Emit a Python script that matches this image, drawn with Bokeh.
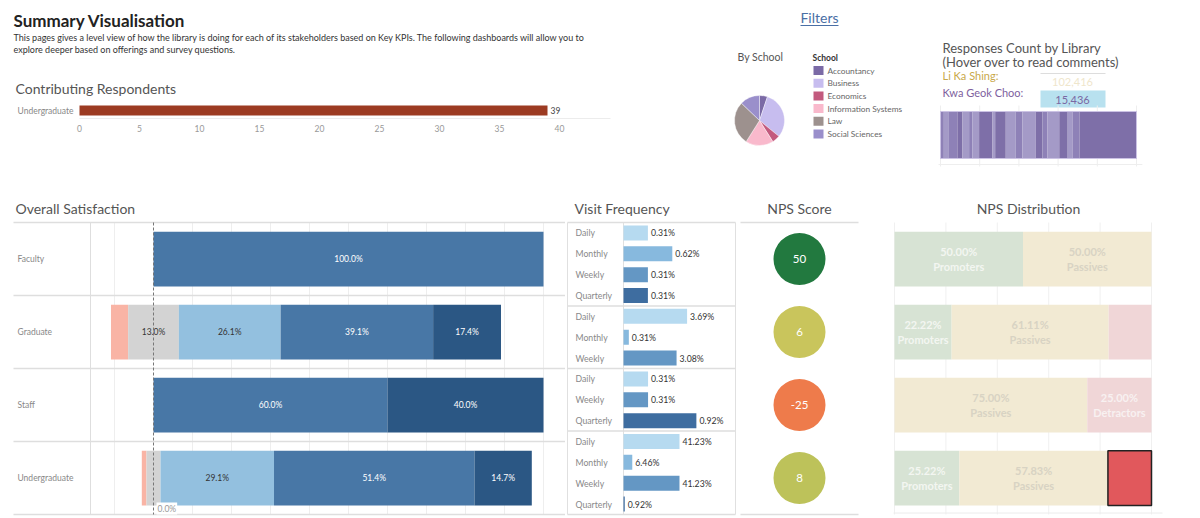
import numpy as np
from bokeh.plotting import figure
from bokeh.layouts import row, column
from bokeh.models import Range1d, Label
from bokeh.core.properties import value
from bokeh.embed import file_html
from bokeh.resources import INLINE

FONT = "Lato"

# ---------------- data ----------------
title_text = "Summary Visualisation"
desc_lines = [
    "This pages gives a level view of how the library is doing for each of its stakeholders based on Key KPIs. The following dashboards will allow you to",
    "explore deeper based on offerings and survey questions.",
]
resp_categories = ["Undergraduate"]
resp_counts = [39]
resp_ticks = [0, 5, 10, 15, 20, 25, 30, 35, 40]

schools = ["Accountancy", "Business", "Economics", "Information Systems", "Law", "Social Sciences"]
school_counts = [2, 12, 2, 7, 11, 5]
school_colors = ["#7b6aa6", "#c7bdef", "#c35a7e", "#f9b9cc", "#9d918e", "#9a8fcb"]

libraries = ["Li Ka Shing:", "Kwa Geok Choo:"]
library_counts = [102416, 15436]
library_colors = ["#c9a94a", "#7e5f9e"]
stripe_pct = [1.7, 2.6, 4.3, 2.6, 3.4, 1.7, 3.4, 6.8, 1.4, 5.4, 5.1, 3.4, 6.8, 3.4, 2.6, 6.0, 4.3, 2.6, 3.4, 29.1]
stripe_shade = ["m", "l", "m", "d", "l", "m", "l", "d", "l", "d", "l", "m", "l", "d", "m", "l", "d", "l", "m", "d"]
stripe_ticks = [0, 20, 40, 60, 80, 100]

stakeholders = ["Faculty", "Graduate", "Staff", "Undergraduate"]
sat_levels = ["Dissatisfied", "Neutral", "Satisfied", "Very Satisfied", "Extremely Satisfied"]
sat_colors = ["#f9b4a5", "#d3d3d3", "#93c0df", "#4877a6", "#2b5784"]
sat_faculty = [0.0, 0.0, 0.0, 100.0, 0.0]
sat_graduate = [4.4, 13.0, 26.1, 39.1, 17.4]
sat_staff = [0.0, 0.0, 0.0, 60.0, 40.0]
sat_undergrad = [1.2, 3.6, 29.1, 51.4, 14.7]
sat_ticks = [-10, 10, 20, 30, 40, 50, 60, 70, 80, 90, 100]

freq_names = ["Daily", "Monthly", "Weekly", "Quarterly"]
freq_colors = ["#b6daf0", "#87b9de", "#6497c4", "#3e6da0"]
vf_labels = [
    ["Daily", "Monthly", "Weekly", "Quarterly"],
    ["Daily", "Monthly", "Weekly"],
    ["Daily", "Weekly", "Quarterly"],
    ["Daily", "Monthly", "Weekly", "Quarterly"],
]
vf_pct = [
    [0.31, 0.62, 0.31, 0.31],
    [3.69, 0.31, 3.08],
    [0.31, 0.31, 0.92],
    [41.23, 6.46, 41.23, 0.92],
]

nps_scores = [50, 6, -25, 8]
nps_colors = ["#22793f", "#c9c55c", "#ee7b4b", "#bdc25a"]

nps_groups = ["Promoters", "Passives", "Detractors"]
nps_promoters = [50.00, 22.22, 0.00, 25.22]
nps_passives = [50.00, 61.11, 75.00, 57.83]
nps_detractors = [0.00, 16.67, 25.00, 16.95]
nps_fill = ["#d7e3d4", "#f2ead3", "#f0d6d7"]
nps_text = ["#f3f6f1", "#d8d3c3", "#f8f1f1"]
nps_ticks = [0, 20, 40, 60, 80, 100]
nps_highlight = (3, 2)   # Undergraduate / Detractors selected

# ---------------- helpers ----------------
H_TOP, H_BOT = 192, 324
TOP0 = 0      # reference y of top row
BOT0 = 192    # reference y of bottom row


def mkfig(w, h, xr, yr):
    p = figure(width=w, height=h, x_range=xr, y_range=yr, output_backend="svg",
               toolbar_location=None, x_axis_location=None, y_axis_location=None,
               outline_line_color=None, min_border=0)
    p.min_border_left = 0
    p.min_border_right = 0
    p.min_border_top = 0
    p.min_border_bottom = 0
    for g in p.xgrid:
        g.visible = False
    for g in p.ygrid:
        g.visible = False
    p.background_fill_color = "white"
    p.border_fill_color = "white"
    return p


def txt(p, x, y, s, size, color, align="left", style="normal", baseline="middle"):
    p.text(x=[x], y=[y], text=[s], text_font=value(FONT), text_font_size=size,
           text_color=color, text_align=align, text_baseline=baseline,
           text_font_style=style)


# ---------------- figure A: summary + contributing respondents ----------------
W_A = 720
xA0, kA = 79.0, 12.0
ax_ = lambda px: (px - xA0) / kA
pA = mkfig(W_A, H_TOP, Range1d(ax_(0), ax_(W_A)), Range1d(H_TOP, 0))
txt(pA, ax_(13), 20, title_text, "17px", "#222222", style="bold")
txt(pA, ax_(13), 37, desc_lines[0], "9px", "#333333")
txt(pA, ax_(13), 49, desc_lines[1], "9px", "#333333")
txt(pA, ax_(15), 88, "Contributing Respondents", "14px", "#555555")
RESP_Y = 110
pA.segment(x0=[0], x1=[ax_(610)], y0=[118], y1=[118], line_color="#ececec", line_width=1)
pA.hbar(y=[RESP_Y] * len(resp_counts), left=0, right=resp_counts, height=10,
        fill_color="#9c3b22", line_color=None)
for c, v in zip(resp_categories, resp_counts):
    txt(pA, ax_(73), RESP_Y, c, "8.5px", "#888888", align="right")
    txt(pA, v + 3 / kA, RESP_Y, str(v), "8.5px", "#444444")
pA.text(x=resp_ticks, y=[128] * len(resp_ticks), text=[str(t) for t in resp_ticks],
        text_font=value(FONT), text_font_size="8.5px", text_color="#999999",
        text_align="center", text_baseline="middle")

# ---------------- figure B: filters + pie ----------------
W_B = 215
xB0 = 720
bx = lambda px: px - xB0
by = lambda py: H_TOP - (py - TOP0)
pB = mkfig(W_B, H_TOP, Range1d(0, W_B), Range1d(0, H_TOP))
txt(pB, bx(819), by(17), "Filters", "14px", "#4a6fa5", align="center")
pB.segment(x0=[bx(800)], x1=[bx(838)], y0=[by(25)], y1=[by(25)], line_color="#4a6fa5", line_width=1)
txt(pB, bx(737), by(56), "By School", "10.5px", "#555555")
frac = np.array(school_counts, dtype=float) / sum(school_counts)
cum = np.concatenate([[0.0], np.cumsum(frac)])
start = np.pi / 2 - 2 * np.pi * cum[1:]
end = np.pi / 2 - 2 * np.pi * cum[:-1]
pB.wedge(x=bx(759), y=by(120), radius=25, start_angle=start, end_angle=end,
         fill_color=school_colors, line_color="white", line_width=0.4)
txt(pB, bx(812), by(57), "School", "8.5px", "#333333", style="bold")
leg_y = [by(70 + 12.7 * i) for i in range(len(schools))]
pB.rect(x=[bx(818)] * len(schools), y=leg_y, width=10, height=9, fill_color=school_colors, line_color=None)
for yy, s in zip(leg_y, schools):
    txt(pB, bx(827), yy, s, "8.3px", "#666666")

# ---------------- figure C: responses count by library ----------------
W_C = 263
xC_org = 935
xC0, kC = 940.0, 1.96
cx = lambda px: (px - xC0) / kC
pC = mkfig(W_C, H_TOP, Range1d(cx(xC_org), cx(xC_org + W_C)), Range1d(H_TOP, 0))
txt(pC, cx(942), 47, "Responses Count by Library", "13px", "#555555")
txt(pC, cx(942), 61, "(Hover over to read comments)", "13px", "#555555")
txt(pC, cx(942), 75, libraries[0], "11px", library_colors[0])
txt(pC, cx(942), 92, libraries[1], "11px", library_colors[1])
pC.segment(x0=[cx(1040)], x1=[cx(1105)], y0=[73], y1=[73], line_color="#dddddd", line_width=1)
pC.quad(left=[cx(1040)], right=[cx(1105)], top=[90], bottom=[107], fill_color="#b8e1ef", line_color=None)
txt(pC, cx(1072), 81, f"{library_counts[0]:,}", "11px", "#efe6cc", align="center")
txt(pC, cx(1072), 99, f"{library_counts[1]:,}", "11px", "#7a68a3", align="center")
pC.segment(x0=stripe_ticks, x1=stripe_ticks, y0=[105] * len(stripe_ticks), y1=[166] * len(stripe_ticks),
           line_color="#eeeeee", line_width=1)
pC.segment(x0=[-1], x1=[103], y0=[164], y1=[164], line_color="#eeeeee", line_width=1)
shade_map = {"d": "#7e6fa8", "m": "#8e81b7", "l": "#a49ac7"}
sp = np.array(stripe_pct)
s_right = np.cumsum(sp)
s_left = s_right - sp
pC.hbar(y=134.5, left=s_left, right=s_right, height=47,
        fill_color=[shade_map[s] for s in stripe_shade], line_color=None)
pC.quad(left=[0], right=[s_right[-1]], top=[111], bottom=[158], fill_color=None,
        line_color="#cbc2e4", line_width=1)

# ---------------- figure D: overall satisfaction ----------------
ROW_TOP, PITCH = 222.0 - BOT0, 73.0
W_D = 565
xD0, kD = 153.0, 3.9
dx = lambda px: (px - xD0) / kD
yr_rows = Range1d((H_BOT - ROW_TOP) / PITCH, -ROW_TOP / PITCH)
TITLE_Y = (208 - BOT0 - ROW_TOP) / PITCH
pD = mkfig(W_D, H_BOT, Range1d(dx(0), dx(W_D)), yr_rows)
txt(pD, dx(15), TITLE_Y, "Overall Satisfaction", "14px", "#555555")
n = len(stakeholders)
pD.segment(x0=sat_ticks, x1=sat_ticks, y0=[0] * len(sat_ticks), y1=[n] * len(sat_ticks),
           line_color="#eeeeee", line_width=1)
pD.segment(x0=[dx(13)] * (n + 1), x1=[dx(W_D)] * (n + 1), y0=list(range(n + 1)), y1=list(range(n + 1)),
           line_color="#dedede", line_width=1.5)
pD.segment(x0=[dx(90)], x1=[dx(90)], y0=[0], y1=[n], line_color="#dedede", line_width=1)
sat = np.array([sat_faculty, sat_graduate, sat_staff, sat_undergrad])
base = -(sat[:, 0] + sat[:, 1] / 2)
cums = np.concatenate([np.zeros((n, 1)), np.cumsum(sat, axis=1)[:, :-1]], axis=1)
lefts = base[:, None] + cums
rows_c = np.arange(n) + 0.5
for j, lev in enumerate(sat_levels):
    pD.hbar(y=rows_c, left=lefts[:, j], right=lefts[:, j] + sat[:, j], height=0.75,
            fill_color=sat_colors[j], line_color=None)
for i in range(n):
    txt(pD, dx(17), rows_c[i], stakeholders[i], "8.5px", "#888888")
    for j in range(1, len(sat_levels)):
        v = sat[i, j]
        if v >= 5:
            col = "#333333" if j <= 2 else "white"
            txt(pD, lefts[i, j] + v / 2, rows_c[i], f"{v:.1f}%", "8.5px", col, align="center")
pD.segment(x0=[0], x1=[0], y0=[0], y1=[n], line_color="#777777", line_width=1, line_dash="3 2")
pD.add_layout(Label(x=dx(156), y=n - 6 / PITCH, text="0.0%", text_font=FONT, text_font_size="8.5px",
                    text_color="#999999", text_baseline="middle", background_fill_color="white",
                    padding=1))

# ---------------- figure E: visit frequency ----------------
W_E = 173
xE_org = 565
xE0, kE = 623.0, 1.22
ex = lambda px: (px - xE0) / kE
n_items = sum(len(g) for g in vf_labels)
pitchE = (n * PITCH) / n_items
pE = mkfig(W_E, H_BOT, Range1d(ex(xE_org), ex(xE_org + W_E)),
           Range1d((H_BOT - ROW_TOP) / pitchE, -ROW_TOP / pitchE))
txt(pE, ex(574), (208 - BOT0 - ROW_TOP) / pitchE, "Visit Frequency", "14px", "#555555")
bounds = np.concatenate([[0], np.cumsum([len(g) for g in vf_labels])])
pE.segment(x0=[ex(567), ex(735), 0], x1=[ex(567), ex(735), 0], y0=[0, 0, 0], y1=[n_items] * 3,
           line_color="#e0e0e0", line_width=1)
pE.segment(x0=[ex(567)] * len(bounds), x1=[ex(735)] * len(bounds), y0=bounds, y1=bounds,
           line_color="#dedede", line_width=1.5)
for g, (labs, pcts) in enumerate(zip(vf_labels, vf_pct)):
    tot = sum(pcts)
    for k, (lab, pc) in enumerate(zip(labs, pcts)):
        yy = bounds[g] + k + 0.5
        share = pc / tot * 100
        pE.hbar(y=[yy], left=0, right=[share], height=0.72,
                fill_color=freq_colors[freq_names.index(lab)], line_color=None)
        txt(pE, ex(575), yy, lab, "8.7px", "#888888")
        txt(pE, share + 3 / kE, yy, f"{pc:.2f}%", "8.7px", "#333333")

# ---------------- figure F: NPS score ----------------
W_F = 132
xF_org = 738
pF = mkfig(W_F, H_BOT, Range1d(xF_org, xF_org + W_F), yr_rows)
txt(pF, 799, TITLE_Y, "NPS Score", "14px", "#555555", align="center")
pF.segment(x0=[740, 740], x1=[858, 858], y0=[0, n], y1=[0, n], line_color="#dedede", line_width=1.5)
pF.scatter(x=[799] * n, y=rows_c, size=52, fill_color=nps_colors, line_color=None)
for i, s in enumerate(nps_scores):
    txt(pF, 799, rows_c[i], str(s), "11.5px", "white", align="center")

# ---------------- figure G: NPS distribution ----------------
W_G = 328
xG_org = 870
xG0, kG = 894.0, 2.57
gx = lambda px: (px - xG0) / kG
pG = mkfig(W_G, H_BOT, Range1d(gx(xG_org), gx(xG_org + W_G)), yr_rows)
txt(pG, gx(1028), TITLE_Y, "NPS Distribution", "14px", "#555555", align="center")
pG.segment(x0=nps_ticks, x1=nps_ticks, y0=[0] * len(nps_ticks), y1=[n] * len(nps_ticks),
           line_color="#f0f0f0", line_width=1)
pG.segment(x0=[gx(893)], x1=[gx(1162)], y0=[n - 0.02], y1=[n - 0.02], line_color="#ececec", line_width=1)
nps = np.array([nps_promoters, nps_passives, nps_detractors]).T
nps_left = np.concatenate([np.zeros((n, 1)), np.cumsum(nps, axis=1)[:, :-1]], axis=1)
for j, grp in enumerate(nps_groups):
    pG.hbar(y=rows_c, left=nps_left[:, j], right=nps_left[:, j] + nps[:, j], height=0.75,
            fill_color=nps_fill[j], line_color=None)
hi, hj = nps_highlight
pG.hbar(y=[rows_c[hi]], left=[nps_left[hi, hj]], right=[nps_left[hi, hj] + nps[hi, hj]], height=0.75,
        fill_color="#e1585c", line_color="#222222", line_width=1.5)
for i in range(n):
    for j, grp in enumerate(nps_groups):
        v = nps[i, j]
        if v >= 20 and (i, j) != nps_highlight:
            txt(pG, nps_left[i, j] + v / 2, rows_c[i], f"{v:.2f}%\n{grp}", "11px", nps_text[j],
                align="center", style="bold")

layout = column(row(pA, pB, pC), row(pD, pE, pF, pG))
open("out.html", "w").write(file_html(layout, INLINE))
